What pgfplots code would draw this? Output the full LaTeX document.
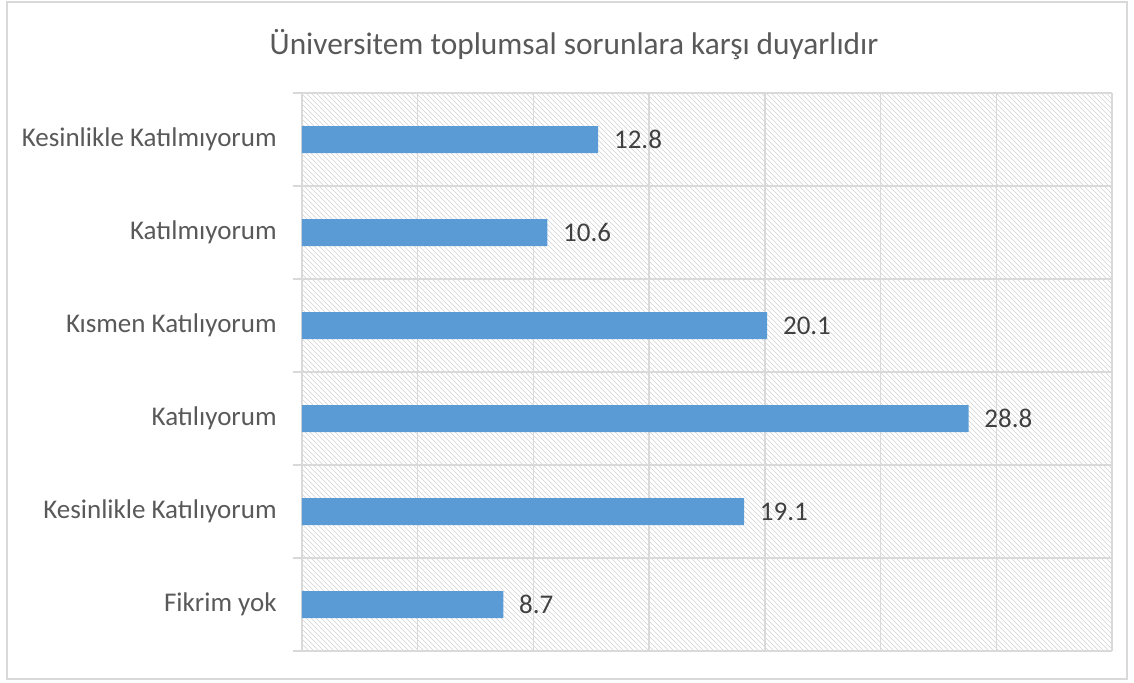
\documentclass[border=0pt]{standalone}
\usepackage{pgfplots}
\pgfplotsset{compat=1.18}
\usetikzlibrary{patterns}
\usepackage{fontspec}
\setmainfont{Carlito}
\definecolor{barblue}{HTML}{5B9BD5}
\definecolor{gridgray}{HTML}{D9D9D9}
\definecolor{txtgray}{HTML}{595959}
\definecolor{lblgray}{HTML}{404040}
\begin{document}
\begin{tikzpicture}
\begin{axis}[
  at={(0,0)}, anchor=south west,
  scale only axis,
  width=486pt, height=334.8pt,
  xbar, bar width=16.2pt,
  xmin=0, xmax=35,
  ymin=-0.5, ymax=5.5,
  xtick={0,5,...,35}, xticklabels={},
  xmajorgrids,
  ytick={0,1,2,3,4,5},
  yticklabels={Fikrim yok,Kesinlikle Katılıyorum,Katılıyorum,Kısmen Katılıyorum,Katılmıyorum,Kesinlikle Katılmıyorum},
  minor ytick={-0.5,0.5,1.5,2.5,3.5,4.5,5.5},
  yminorgrids,
  major tick length=0pt,
  minor tick length=5.4pt,
  tick align=outside,
  tick style={gridgray, line width=0.8pt},
  grid style={gridgray, line width=0.8pt},
  minor grid style={gridgray, line width=0.8pt},
  axis line style={gridgray, line width=0.8pt},
  axis x line*=bottom,
  axis y line*=left,
  axis background/.style={pattern=north west lines, pattern color=gray!35},
  yticklabel style={font=\fontsize{16.2pt}{19pt}\selectfont, text=txtgray, inner sep=0pt, xshift=-15pt},
  nodes near coords,
  every node near coord/.append style={font=\fontsize{16.2pt}{19pt}\selectfont, text=lblgray, xshift=6pt},
  nodes near coords style={/pgf/number format/.cd, fixed, fixed zerofill, precision=1, assume math mode=true},
]
\addplot[fill=barblue, draw=none] coordinates {
  (8.7,0) (19.1,1) (28.8,2) (20.1,3) (10.6,4) (12.8,5)
};
\end{axis}
\begin{scope}[x=0.6pt, y=0.6pt]
  \draw[gridgray, line width=0.8pt] (0,558) -- (810,558);
  \draw[gridgray, line width=0.8pt] (810,0) -- (810,558);
  \draw[gridgray, line width=0.9pt] (-295,-28) rectangle (825,649);
  \node[font=\fontsize{18.8pt}{22pt}\selectfont, text=txtgray] at (272,606) {Üniversitem toplumsal sorunlara karşı duyarlıdır};
  \useasboundingbox (-302,-31) rectangle (832,651);
\end{scope}
\end{tikzpicture}
\end{document}
